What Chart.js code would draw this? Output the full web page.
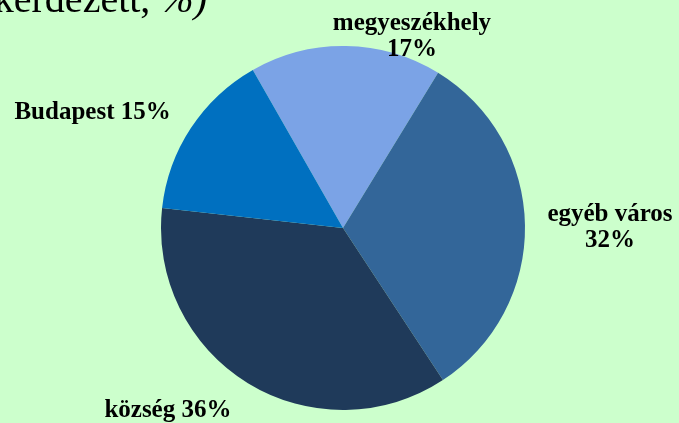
<!DOCTYPE html>
<html>
<head>
<meta charset="utf-8">
<script src="https://cdn.jsdelivr.net/npm/chart.js@4"></script>
<style>
  html, body { margin: 0; padding: 0; background: #ccffcc; }
  #wrap { width: 679px; height: 423px; position: relative; }
</style>
</head>
<body>
<div id="wrap"><canvas id="chart" width="679" height="423"></canvas></div>
<script>
const categories = ["megyeszékhely", "egyéb város", "község", "Budapest"];
const shares = [17, 32, 36, 15];
const sliceColors = ["#7ba3e6", "#336699", "#1f3a5a", "#0070c0"];
// label text lines per slice
const labelLines = [["megyeszékhely", "17%"], ["egyéb város", "32%"], ["község 36%"], ["Budapest 15%"]];
const titleMain = "(a teljes megkérdezett, ";
const titleTail = "%)";

// label centres relative to pie centre, in units of radius
const labelOffsets = [[0.379, -1.05], [1.467, -0.003], [-0.962, 1.005], [-1.376, -0.632]];

const labelPlugin = {
  id: "pieLabels",
  afterDatasetsDraw(chart) {
    const ctx = chart.ctx;
    const arcs = chart.getDatasetMeta(0).data;
    const cx = arcs[0].x, cy = arcs[0].y, r = arcs[0].outerRadius;
    ctx.save();
    ctx.fillStyle = "#000";
    ctx.font = "bold 25px 'Liberation Serif', serif";
    ctx.textAlign = "center";
    ctx.textBaseline = "middle";
    labelLines.forEach((lines, i) => {
      const x = cx + labelOffsets[i][0] * r;
      const y = cy + labelOffsets[i][1] * r;
      const lh = 26;
      lines.forEach((t, j) => {
        ctx.fillText(t, x, y + (j - (lines.length - 1) / 2) * lh);
      });
    });
    // clipped title at the top
    ctx.textBaseline = "alphabetic";
    ctx.textAlign = "right";
    ctx.font = "italic 40px 'Liberation Serif', serif";
    const tailW = ctx.measureText(titleTail).width;
    ctx.fillText(titleTail, 207, 12);
    ctx.font = "40px 'Liberation Serif', serif";
    ctx.fillText(titleMain, 207 - tailW, 12);
    ctx.restore();
  }
};

new Chart(document.getElementById("chart"), {
  type: "pie",
  data: {
    labels: categories,
    datasets: [{
      data: shares,
      backgroundColor: sliceColors,
      borderWidth: 0
    }]
  },
  options: {
    responsive: false,
    animation: false,
    rotation: -29.7,
    layout: { padding: { left: 161, right: 154, top: 46, bottom: 13 } },
    plugins: {
      legend: { display: false },
      tooltip: { enabled: false }
    }
  },
  plugins: [labelPlugin]
});
</script>
</body>
</html>
